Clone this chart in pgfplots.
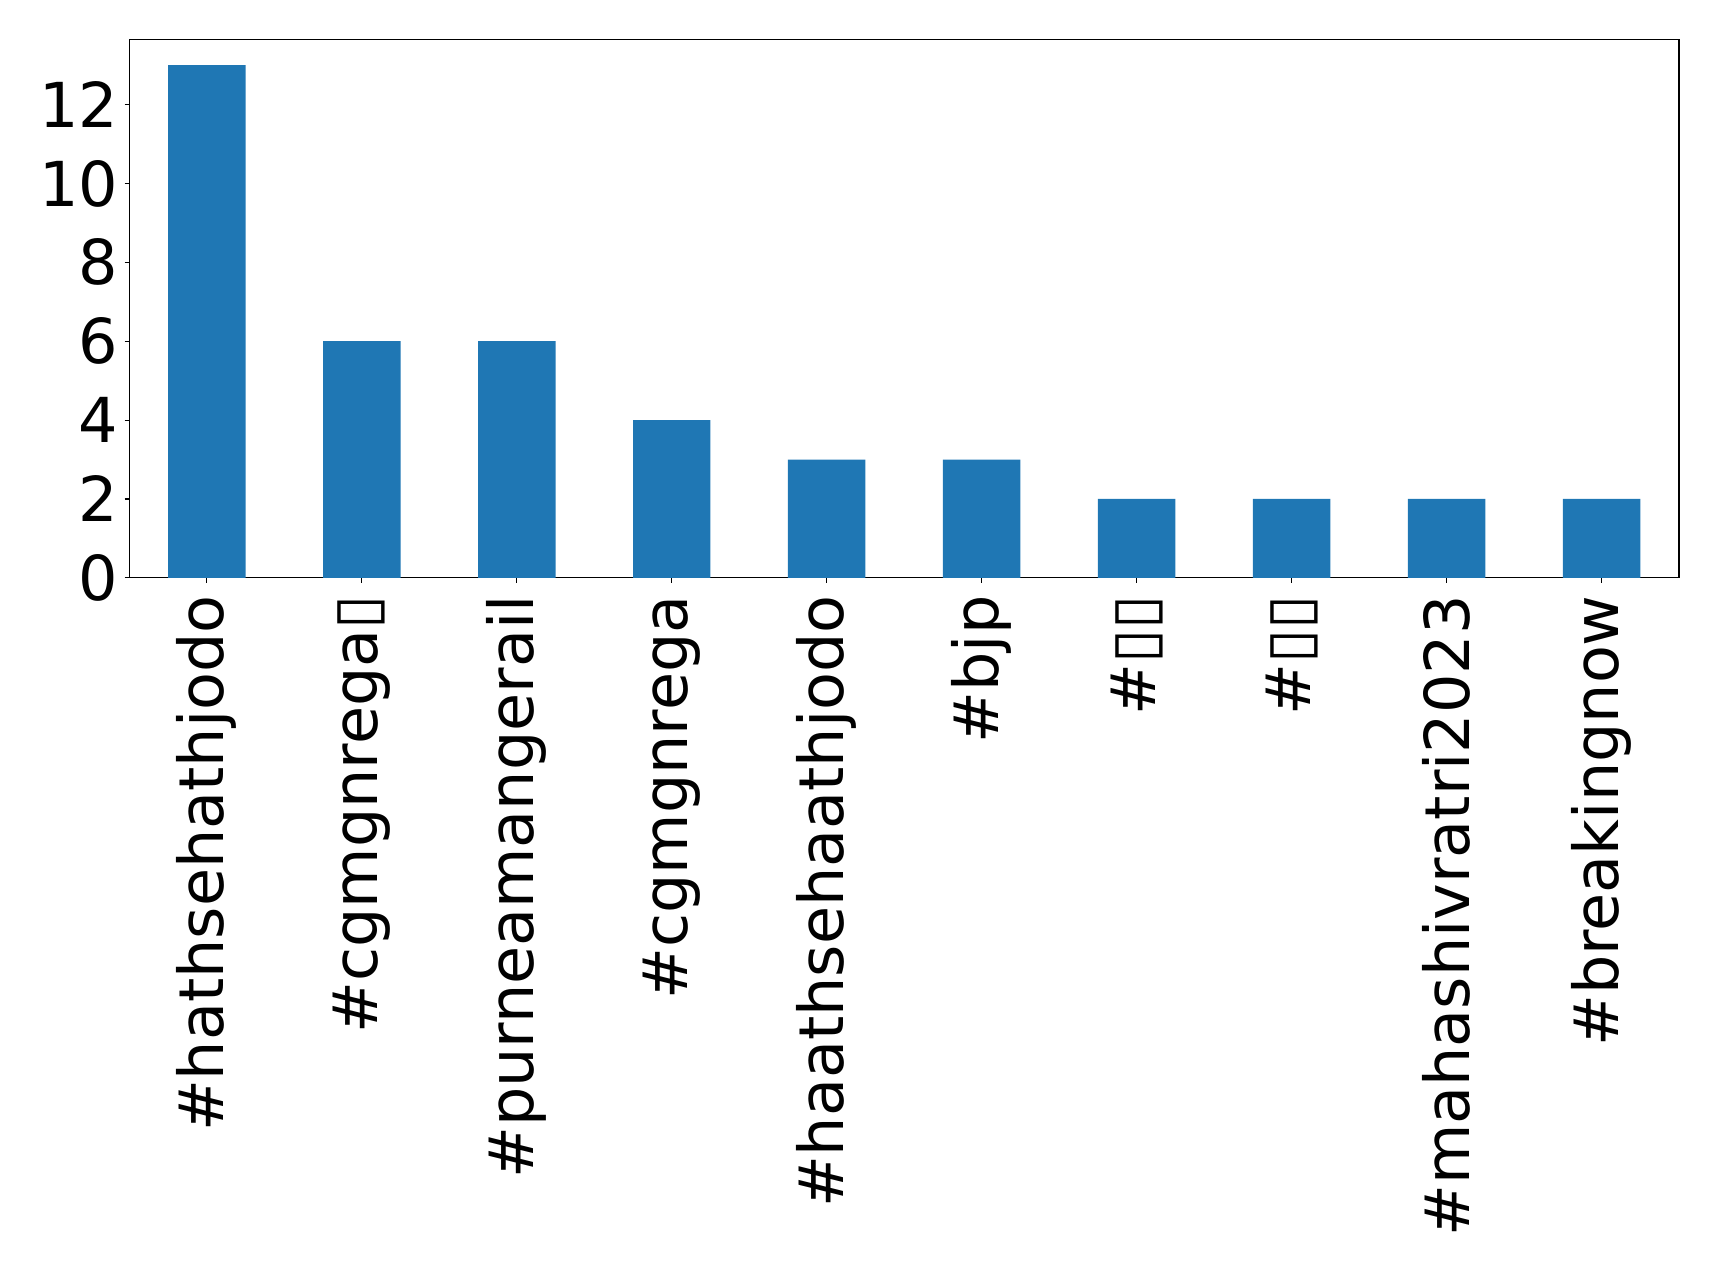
\documentclass[border=0pt]{standalone}
\usepackage{pgfplots}
\pgfplotsset{compat=1.18}
\usepackage{fontspec}
\setmainfont{DejaVu Sans}
\definecolor{mplblue}{HTML}{1F77B4}
\begin{document}
\begin{tikzpicture}
\useasboundingbox (-64.7pt,-348pt) rectangle (795pt,289pt);
\begin{axis}[
  at={(0,0)}, anchor=south west,
  scale only axis,
  width=775pt, height=269.25pt,
  xmin=-0.5, xmax=9.5, ymin=0, ymax=13.65,
  axis line style={line width=0.56pt},
  every tick/.style={black, line width=0.56pt},
  tick align=outside,
  major tick length=2.4pt,
  xtick pos=bottom, ytick pos=left,
  xtick={0,1,2,3,4,5,6,7,8,9},
  xticklabels={\#hathsehathjodo,\#cgmgnrega▯,\#purneamangerail,\#cgmgnrega,\#haathsehaathjodo,\#bjp,\#▯▯,\#▯▯,\#mahashivratri2023,\#breakingnow},
  ytick={0,2,4,6,8,10,12},
  /pgf/number format/assume math mode=true,
  tick label style={font=\fontsize{31}{37}\selectfont, inner sep=0pt},
  xticklabel style={rotate=90, anchor=east},
  yticklabel style={anchor=east},
  xticklabel shift=6.2pt,
  yticklabel shift=3.1pt,
  clip=false,
]
\addplot[ybar, bar width=0.5, fill=mplblue, draw=none] coordinates {
  (0,13) (1,6) (2,6) (3,4) (4,3) (5,3) (6,2) (7,2) (8,2) (9,2)
};
\end{axis}
\end{tikzpicture}
\end{document}
